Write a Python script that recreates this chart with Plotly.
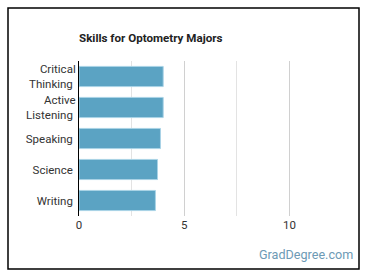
import plotly.graph_objects as go

skills = ["Critical<br>Thinking", "Active<br>Listening", "Speaking", "Science", "Writing"]
scores = [4.0, 4.0, 3.87, 3.73, 3.63]
x_ticks = [0, 5, 10]

fig = go.Figure(go.Bar(
    x=scores, y=skills, orientation="h",
    marker=dict(color="#5ba3c3", line=dict(color="#a9d3e6", width=1)),
    width=0.65,
))

fig.update_layout(
    width=370, height=278,
    margin=dict(l=79, r=30, t=61, b=62),
    paper_bgcolor="white", plot_bgcolor="white",
    font=dict(family="Roboto", size=11.5, color="#333333"),
    showlegend=False,
    title=dict(text="<b>Skills for Optometry Majors</b>", x=79/370, xanchor="left",
               y=1 - 38/278, yanchor="middle", font=dict(size=11.6, color="#222222")),
    xaxis=dict(range=[0, 12.4], tickvals=x_ticks, showgrid=True, gridcolor="#d0d0d0",
               gridwidth=1, zeroline=False, showline=False, ticks="",
               minor=dict(dtick=2.5, showgrid=True, gridcolor="#e3e3e3", gridwidth=1),
               tickfont=dict(size=11.5, color="#333333")),
    yaxis=dict(autorange="reversed", showline=True, linecolor="#000000", linewidth=1,
               ticks="", showgrid=False, ticksuffix=" ",
               tickfont=dict(size=11.5, color="#333333")),
    shapes=[dict(type="rect", xref="paper", yref="paper",
                 x0=(8 - 79) / 261, x1=(359 - 79) / 261,
                 y0=-(269 - 216) / 155, y1=1 + (61 - 8) / 155,
                 line=dict(color="#000000", width=1.5))],
    annotations=[dict(text="GradDegree.com", xref="paper", yref="paper",
                      x=(355 - 79) / 261, y=-(255 - 216) / 155, xanchor="right", yanchor="middle",
                      showarrow=False, font=dict(size=12.6, color="#6d9ab5"))],
)

fig.write_html("out.html")
